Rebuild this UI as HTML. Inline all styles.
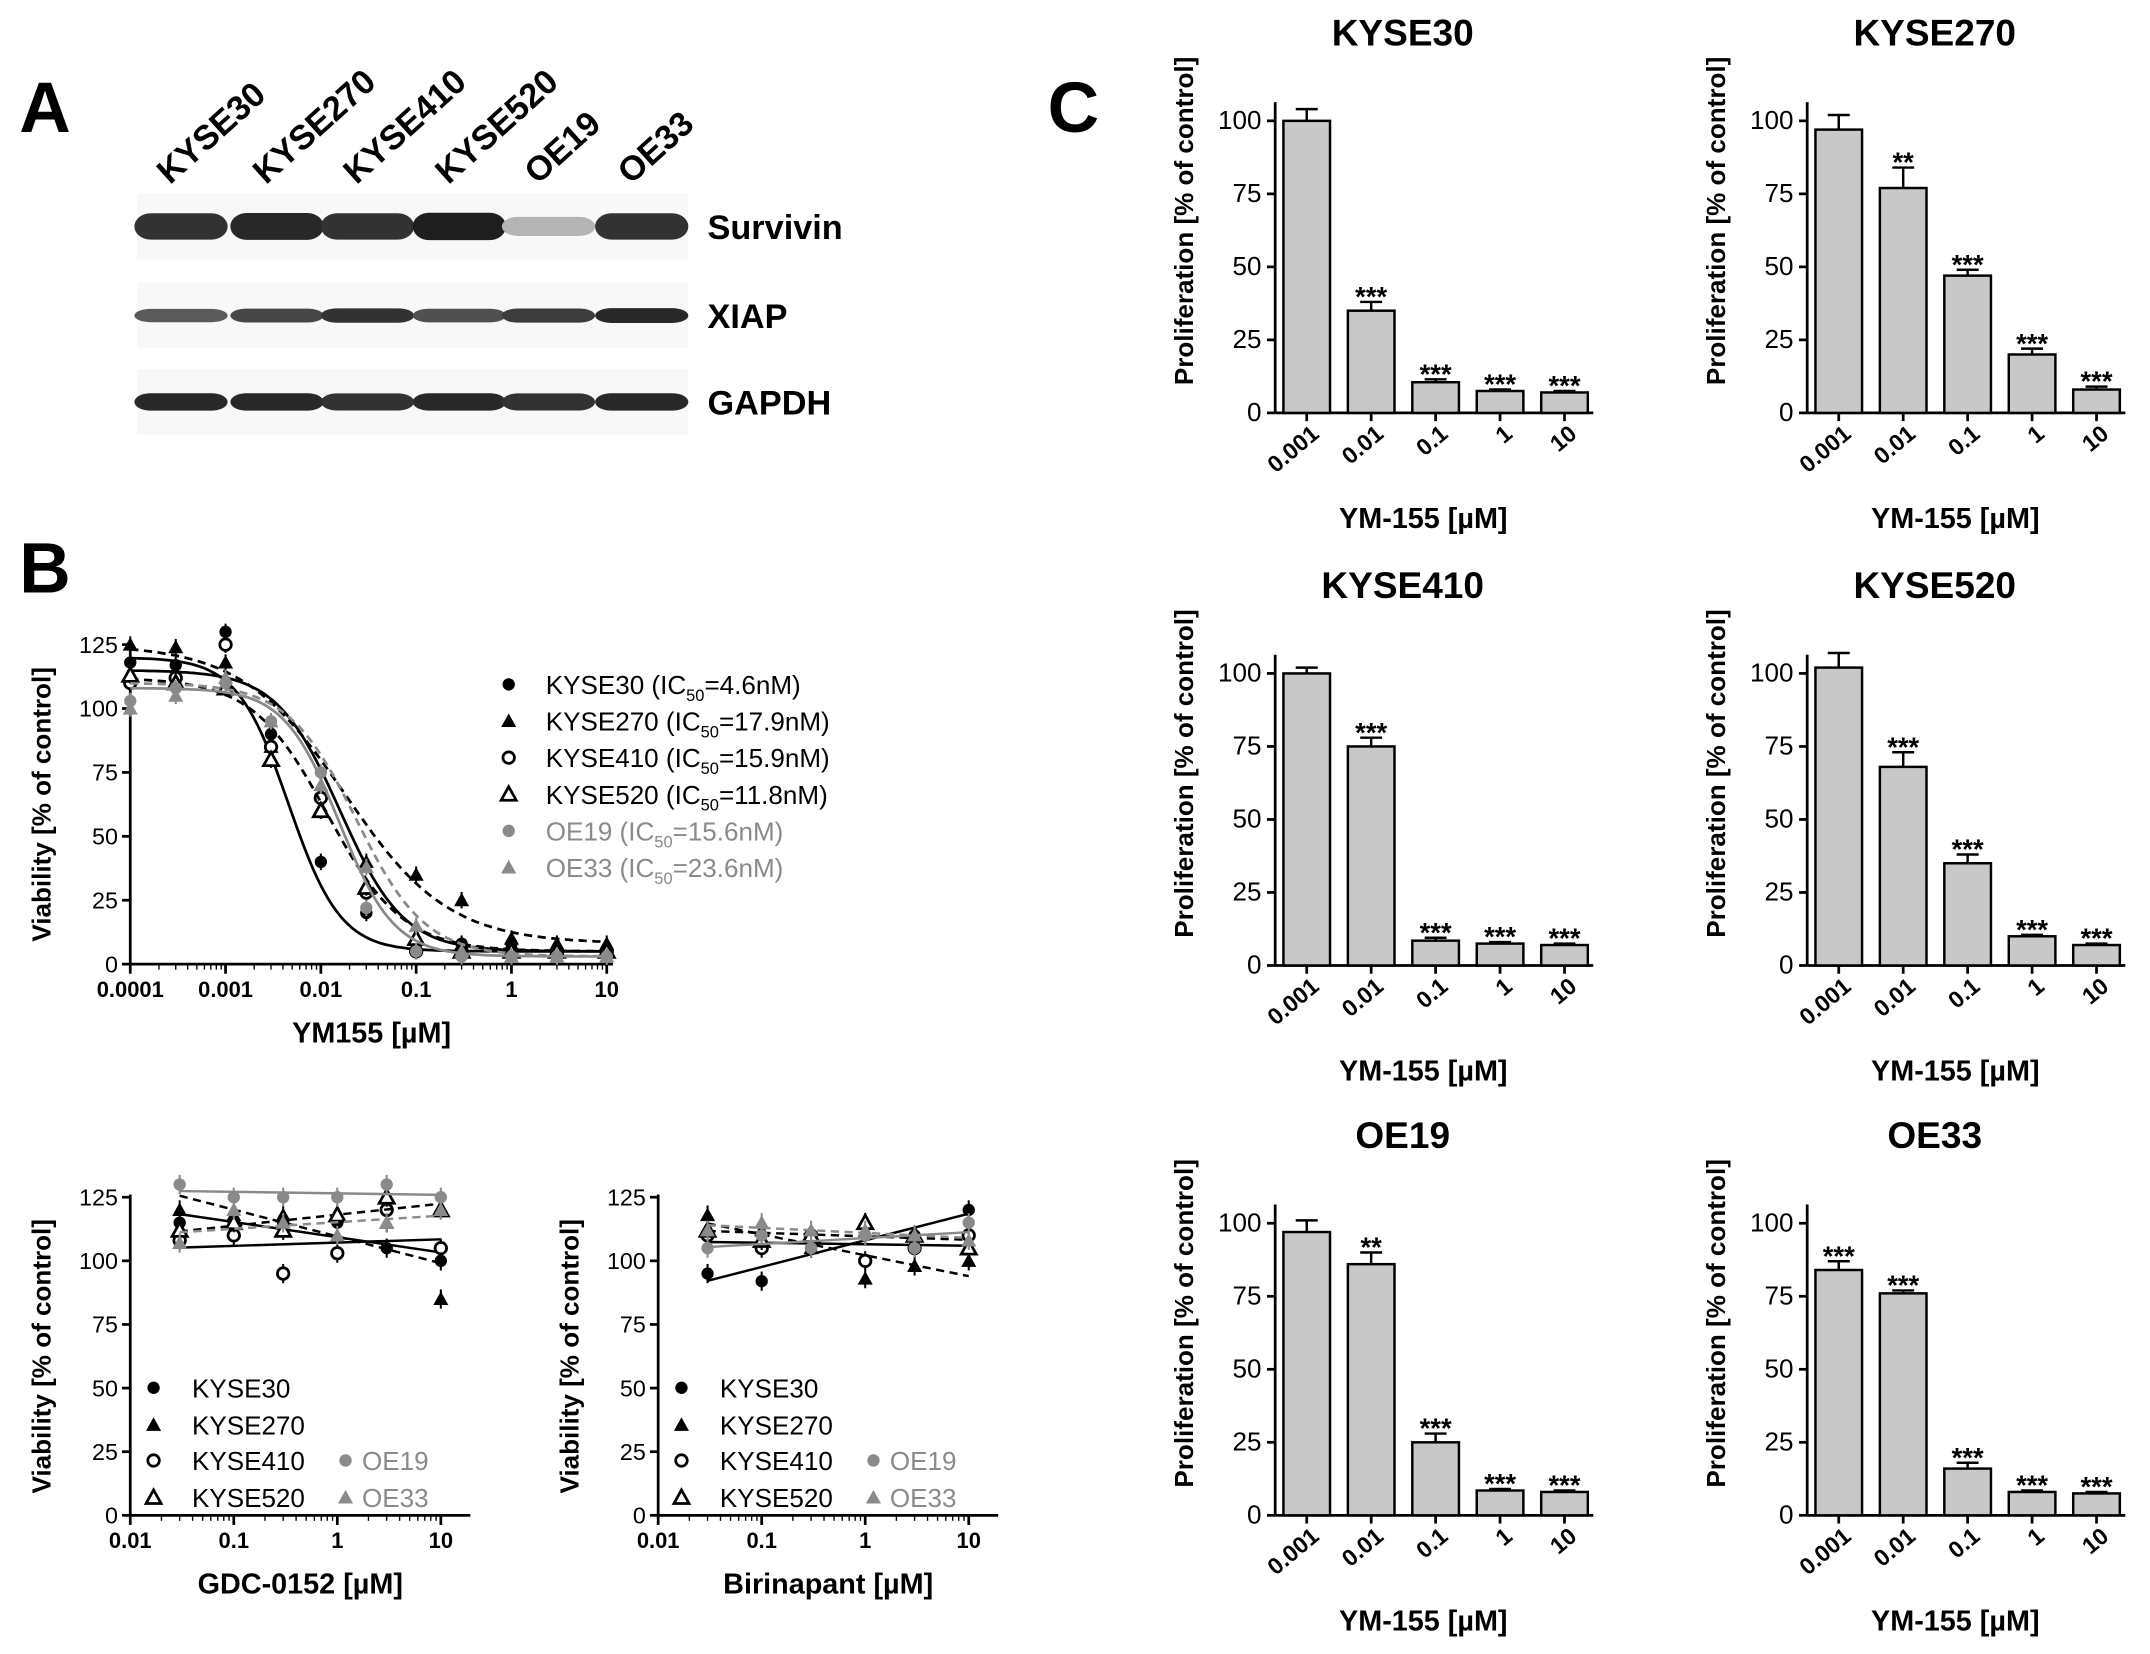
<!DOCTYPE html>
<html><head><meta charset="utf-8"><style>
html,body{margin:0;padding:0;background:#fff}
svg{display:block;font-family:"Liberation Sans",Arial,sans-serif}
</style></head><body>
<svg id="fig" width="2150" height="1654" viewBox="0 0 1568 1206" xmlns="http://www.w3.org/2000/svg">
<g id="panelA"></g>
<g id="panelB"></g>
<g id="panelC"></g>
</svg>
<script>
// ---------- DATA ----------
const blotLanes = ["KYSE30","KYSE270","KYSE410","KYSE520","OE19","OE33"];
const blotRows = ["Survivin","XIAP","GAPDH"];
const survivinIntensity = [0.9,0.95,0.9,1.0,0.25,0.9];
const xiapIntensity = [0.7,0.8,0.9,0.75,0.85,0.95];
const gapdhIntensity = [0.95,0.95,0.9,0.95,0.9,0.95];

const ymConc = [0.0001,0.0003,0.001,0.003,0.01,0.03,0.1,0.3,1,3,10];
const ymSeriesNames = ["KYSE30","KYSE270","KYSE410","KYSE520","OE19","OE33"];
const ymIC50Labels = ["4.6nM","17.9nM","15.9nM","11.8nM","15.6nM","23.6nM"];
const ymKYSE30 = [118,117,130,90,40,20,8,8,8,5,5];
const ymKYSE270 = [125,124,118,85,60,40,35,25,10,8,8];
const ymKYSE410 = [110,112,125,85,65,28,5,5,5,5,5];
const ymKYSE520 = [113,110,108,80,60,30,10,5,5,5,5];
const ymOE19 = [103,108,110,95,75,22,5,3,3,3,3];
const ymOE33 = [100,105,112,95,70,38,15,5,3,3,3];
const ymTop = [120,125,115,112,108,110];
const ymBottom = [5,8,5,5,3,3];
const ymIC50 = [0.0046,0.0179,0.0159,0.0118,0.0156,0.0236];
const ymHill = [1.6,0.8,1.3,1.1,1.5,1.2];

const secConc = [0.03,0.1,0.3,1,3,10];
const gdcKYSE30 = [115,115,115,115,105,100];
const gdcKYSE270 = [120,118,118,118,115,85];
const gdcKYSE410 = [108,110,95,103,120,105];
const gdcKYSE520 = [112,115,112,118,125,120];
const gdcOE19 = [130,125,125,125,130,125];
const gdcOE33 = [107,120,115,110,115,120];
const birKYSE30 = [95,92,105,110,110,120];
const birKYSE270 = [118,112,105,93,98,100];
const birKYSE410 = [110,105,110,100,105,110];
const birKYSE520 = [112,108,110,115,110,105];
const birOE19 = [105,110,105,110,105,115];
const birOE33 = [112,115,112,112,110,108];

const barCats = ["0.001","0.01","0.1","1","10"];
const barTitles = ["KYSE30","KYSE270","KYSE410","KYSE520","OE19","OE33"];
const barKYSE30 = [100,35,10.5,7.5,7];
const barKYSE270 = [97,77,47,20,8];
const barKYSE410 = [100,75,8.5,7.5,7];
const barKYSE520 = [102,68,35,10,7];
const barOE19 = [97,86,25,8.5,8];
const barOE33 = [84,76,16,8,7.5];
const errKYSE30 = [4,3,1,0.5,0.5];
const errKYSE270 = [5,7,2,2,1];
const errKYSE410 = [2,3,1,0.5,0.5];
const errKYSE520 = [5,5,3,0.5,0.5];
const errOE19 = [4,4,3,0.5,0.5];
const errOE33 = [3,1,2,0.5,0.5];
const starKYSE30 = ["","***","***","***","***"];
const starKYSE270 = ["","**","***","***","***"];
const starKYSE410 = ["","***","***","***","***"];
const starKYSE520 = ["","***","***","***","***"];
const starOE19 = ["","**","***","***","***"];
const starOE33 = ["***","***","***","***","***"];
const barYTicks = [0,25,50,75,100];
const vYTicks = [0,25,50,75,100,125];

// ---------- HELPERS ----------
const NS="http://www.w3.org/2000/svg";
function mk(parent,tag,attrs,text){const e=document.createElementNS(NS,tag);for(const k in attrs)e.setAttribute(k,attrs[k]);if(text!==undefined)e.textContent=text;parent.appendChild(e);return e;}
const A=document.getElementById('panelA'),B=document.getElementById('panelB'),C=document.getElementById('panelC');

// ---------- PANEL A ----------
let t=mk(A,'text',{x:14,y:96,'font-size':52,'font-weight':'bold'},'A');

const laneX=[132,202,268,335,400,468];
blotLanes.forEach((n,i)=>{const e=mk(A,'text',{x:laneX[i]-8,y:135,'font-size':25,'font-weight':'bold',transform:`rotate(-42 ${laneX[i]-8} 135)`},n);
});
const rowY=[165,230,293],rowH=[20,11,13],rowInt=[survivinIntensity,xiapIntensity,gapdhIntensity];
rowY.forEach((y,r)=>{
  const bg=mk(A,'rect',{x:100,y:y-24,width:402,height:48,fill:'#f8f8f8'});
  
  laneX.forEach((x,i)=>{const v=rowInt[r][i];const g=Math.round(30+(1-v)*200);const hh=rowH[r]*(0.6+0.4*v);
    const b=mk(A,'rect',{x:x-34,y:y-hh/2,width:68,height:hh,rx:12,ry:hh/2,fill:`rgb(${g},${g},${g})`});
    });
  const l=mk(A,'text',{x:516,y:y+9,'font-size':25,'font-weight':'bold'},blotRows[r]);
  
});

// ---------- PANEL B ----------
t=mk(B,'text',{x:14,y:432,'font-size':52,'font-weight':'bold'},'B');

function marker(g,kind,x,y){
  const gray=kind>=4, col=gray?'#8a8a8a':'#000';
  if(kind===0||kind===4) return mk(g,'circle',{cx:x,cy:y,r:4.5,fill:col});
  if(kind===2) return mk(g,'circle',{cx:x,cy:y,r:4.2,fill:'#fff',stroke:'#000','stroke-width':2});
  const s=5.5;const pts=`${x},${y-s} ${x-s},${y+s*0.8} ${x+s},${y+s*0.8}`;
  if(kind===3) return mk(g,'polygon',{points:pts,fill:'#fff',stroke:'#000','stroke-width':2});
  return mk(g,'polygon',{points:pts,fill:col});
}
function axesV(g,ax,x0,x1,y0,y125,decades,label,name){
  const sy=v=>y0-(v/125)*(y0-y125);
  const la=mk(g,'line',{x1:x0,y1:y125-2,x2:x0,y2:y0,stroke:'#000','stroke-width':2});
  
  vYTicks.forEach(v=>{mk(g,'line',{x1:x0-6,y1:sy(v),x2:x0,y2:sy(v),stroke:'#000','stroke-width':2});
    const e=mk(g,'text',{x:x0-9,y:sy(v)+6,'font-size':17,'text-anchor':'end'},v);
    });
  const lx=mk(g,'line',{x1:x0,y1:y0,x2:x1,y2:y0,stroke:'#000','stroke-width':2});
  
  decades.forEach(d=>{const x=ax(d);mk(g,'line',{x1:x,y1:y0,x2:x,y2:y0+7,stroke:'#000','stroke-width':2});
    for(let k=2;k<10;k++){const xx=ax(d*k);if(xx<=x1+1)mk(g,'line',{x1:xx,y1:y0,x2:xx,y2:y0+4,stroke:'#000','stroke-width':1});}
    const e=mk(g,'text',{x:x,y:y0+24,'font-size':16,'font-weight':'bold','text-anchor':'middle'},String(d));
    });
  const yl=mk(g,'text',{x:0,y:0,'font-size':19,'font-weight':'bold','text-anchor':'middle',transform:`translate(${x0-58},${(y0+y125)/2}) rotate(-90)`},'Viability [% of control]');
  
  const xl=mk(g,'text',{x:(x0+x1)/2,y:y0+57,'font-size':21,'font-weight':'bold','text-anchor':'middle'},label);
  
  return sy;
}
(function(){
  const x0=95,x1=447,y0=703,y125=470;
  const ax=c=>x0+(Math.log10(c)+4)*69.5;
  const sy=axesV(B,ax,x0,x1,y0,y125,[0.0001,0.001,0.01,0.1,1,10],'YM155 [µM]','ym155-chart');
  const series=[ymKYSE30,ymKYSE270,ymKYSE410,ymKYSE520,ymOE19,ymOE33];
  series.forEach((vals,s)=>{
    const col=s>=4?'#8a8a8a':'#000';
    let d='';for(let i=0;i<=120;i++){const lc=-4+i*5/120;const c=Math.pow(10,lc);
      const v=ymBottom[s]+(ymTop[s]-ymBottom[s])/(1+Math.pow(c/ymIC50[s],ymHill[s]));d+=(i?'L':'M')+ax(c).toFixed(1)+','+sy(v).toFixed(1);}
    const p=mk(B,'path',{d:d,fill:'none',stroke:col,'stroke-width':2,'stroke-dasharray':(s%2?'6 4':'none')});
    
    vals.forEach((v,i)=>{const x=ax(ymConc[i]),y=sy(v);mk(B,'line',{x1:x,y1:y-6,x2:x,y2:y+6,stroke:col,'stroke-width':1.5});
      const m=marker(B,s,x,y);});
  });
  ymSeriesNames.forEach((n,s)=>{const y=499+s*26.7;const col=s>=4?'#8a8a8a':'#000';
    const m=marker(B,s,371,y);
    const e=mk(B,'text',{x:398,y:y+7,'font-size':19,fill:col});
    
    mk(e,'tspan',{},n+' (IC');mk(e,'tspan',{'font-size':12,dy:5},'50');mk(e,'tspan',{dy:-5},'='+ymIC50Labels[s]+')');});
})();
function secChart(x0,name,label,data){
  const x1=x0+248,y0=1105,y125=873;
  const ax=c=>x0+(Math.log10(c)+2)*75.5;
  const sy=axesV(B,ax,x0,x1,y0,y125,[0.01,0.1,1,10],label,name);
  data.forEach((vals,s)=>{const col=s>=4?'#8a8a8a':'#000';
    const xs=secConc.map(c=>Math.log10(c));const mx=xs.reduce((a,b)=>a+b)/xs.length,my=vals.reduce((a,b)=>a+b)/vals.length;
    let nu=0,de=0;xs.forEach((x,i)=>{nu+=(x-mx)*(vals[i]-my);de+=(x-mx)*(x-mx);});const sl=nu/de;
    const f=c=>my+sl*(Math.log10(c)-mx);
    const l=mk(B,'line',{x1:ax(0.03),y1:sy(f(0.03)),x2:ax(10),y2:sy(f(10)),stroke:col,'stroke-width':1.8,'stroke-dasharray':(s%2?'6 4':'none')});
    
    vals.forEach((v,i)=>{const x=ax(secConc[i]),y=sy(v);mk(B,'line',{x1:x,y1:y-7,x2:x,y2:y+7,stroke:col,'stroke-width':1.5});
      const m=marker(B,s,x,y);});
  });
  const lg=[[0,x0+17,1012],[1,x0+17,1039],[2,x0+17,1065],[3,x0+17,1092],[4,x0+157,1065],[5,x0+157,1092]];
  lg.forEach(([s,x,y])=>{const m=marker(B,s,x,y);
    const e=mk(B,'text',{x:x+(s>=4?12:28),y:y+7,'font-size':19,fill:s>=4?'#8a8a8a':'#000'},ymSeriesNames[s]);
    });
}
secChart(95,'gdc0152-chart','GDC-0152 [µM]',[gdcKYSE30,gdcKYSE270,gdcKYSE410,gdcKYSE520,gdcOE19,gdcOE33]);
secChart(480,'birinapant-chart','Birinapant [µM]',[birKYSE30,birKYSE270,birKYSE410,birKYSE520,birOE19,birOE33]);

// ---------- PANEL C ----------
t=mk(C,'text',{x:764,y:96,'font-size':52,'font-weight':'bold'},'C');

const barVals=[barKYSE30,barKYSE270,barKYSE410,barKYSE520,barOE19,barOE33];
const barErrs=[errKYSE30,errKYSE270,errKYSE410,errKYSE520,errOE19,errOE33];
const barStars=[starKYSE30,starKYSE270,starKYSE410,starKYSE520,starOE19,starOE33];
barTitles.forEach((title,k)=>{
  const col=k%2,row=Math.floor(k/2);
  const x0=col?1318:930,y0=[301,704,1105][row],h=213;
  const g=mk(C,'g',{});
  const sy=v=>y0-v/100*h;const bx=i=>x0+23+i*47;
  const tt=mk(g,'text',{x:x0+93,y:y0-270+2,'font-size':27,'font-weight':'bold','text-anchor':'middle'},title);
  
  const ya=mk(g,'line',{x1:x0,y1:y0-h*1.05-3,x2:x0,y2:y0,stroke:'#000','stroke-width':2});
  
  const xa=mk(g,'line',{x1:x0,y1:y0,x2:x0+232,y2:y0,stroke:'#000','stroke-width':2});
  
  barYTicks.forEach(v=>{mk(g,'line',{x1:x0-6,y1:sy(v),x2:x0,y2:sy(v),stroke:'#000','stroke-width':2});
    const e=mk(g,'text',{x:x0-10,y:sy(v)+6,'font-size':19,'text-anchor':'end'},v);});
  barVals[k].forEach((v,i)=>{const x=bx(i);
    const r=mk(g,'rect',{x:x-17,y:sy(v),width:34,height:y0-sy(v),fill:'#c8c8c8',stroke:'#000','stroke-width':1.8});
    
    const et=sy(v+barErrs[k][i]);mk(g,'line',{x1:x,y1:sy(v),x2:x,y2:et,stroke:'#000','stroke-width':1.8});
    mk(g,'line',{x1:x-8,y1:et,x2:x+8,y2:et,stroke:'#000','stroke-width':1.8});
    if(barStars[k][i]){const s=mk(g,'text',{x:x,y:et+3,'font-size':20,'font-weight':'bold','text-anchor':'middle'},barStars[k][i]);
      }
    mk(g,'line',{x1:x,y1:y0,x2:x,y2:y0+6,stroke:'#000','stroke-width':2});
    const tl=mk(g,'text',{x:x+10,y:y0+17,'font-size':17,'font-weight':'bold','text-anchor':'end',transform:`rotate(-40 ${x+10} ${y0+17})`},barCats[i]);
    
  });
  const yl=mk(g,'text',{x:0,y:0,'font-size':19,'font-weight':'bold','text-anchor':'middle',transform:`translate(${x0-60},${y0-140}) rotate(-90)`},'Proliferation [% of control]');
  
  const xl=mk(g,'text',{x:x0+108,y:y0+84,'font-size':21,'font-weight':'bold','text-anchor':'middle'},'YM-155 [µM]');
  
});
</script>
</body></html>
